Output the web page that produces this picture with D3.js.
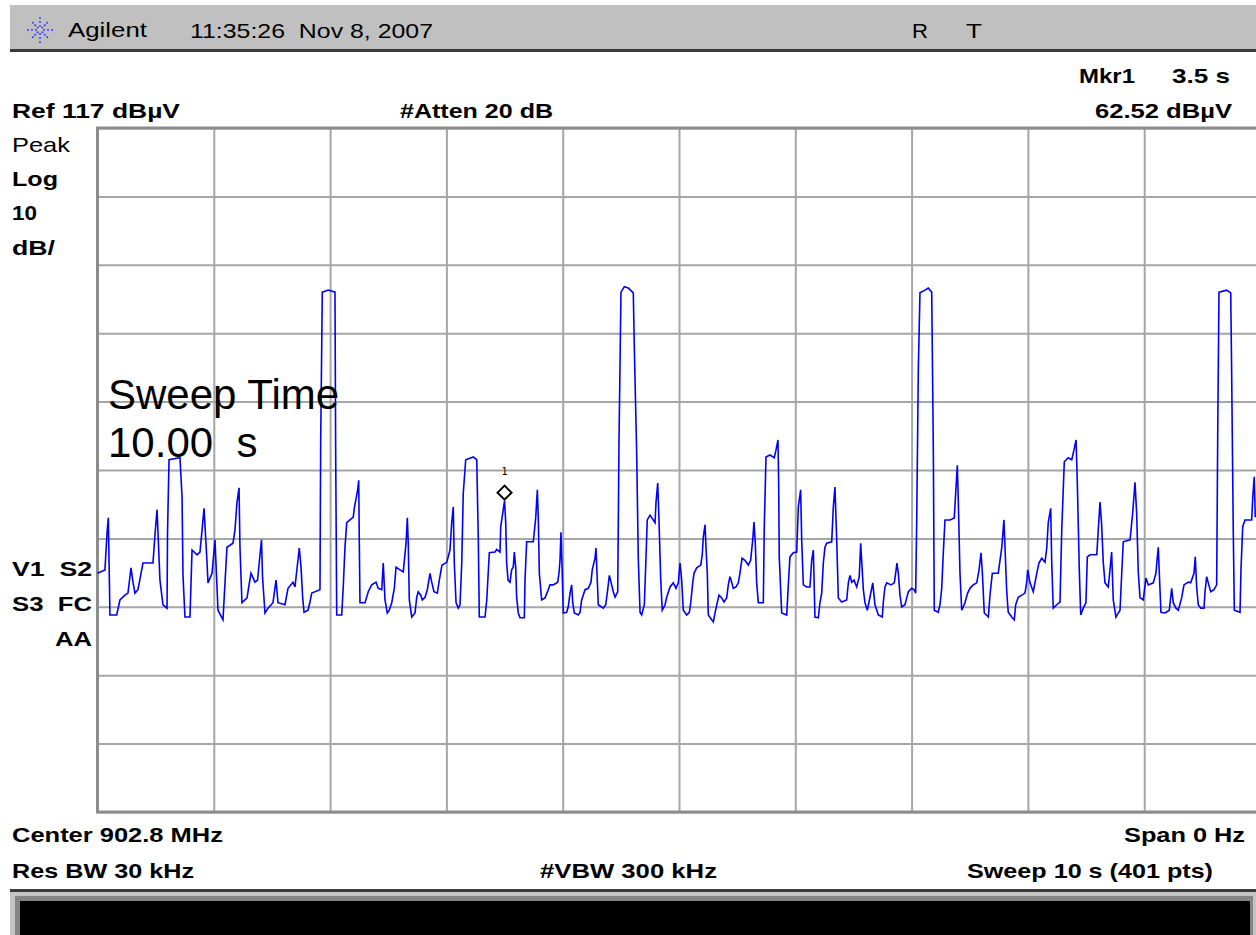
<!DOCTYPE html>
<html>
<head>
<meta charset="utf-8">
<script src="https://cdn.jsdelivr.net/npm/d3@7"></script>
<style>
  body { margin: 0; background: #fff; }
  svg { display: block; }
  text { font-family: "Liberation Sans", Arial, sans-serif; fill: #000; }
  .grid line { stroke: #a6a6a6; stroke-width: 2; }
  .grid path { display: none; }
</style>
</head>
<body>
<svg id="chart" width="1256" height="935"></svg>
<script>
// sweep settings
var refLevel = 117,      // dBuV, top of the graticule
    dbPerDiv = 10,
    sweepSeconds = 10,
    timeTicks = [0, 1, 2, 3, 4, 5, 6, 7, 8, 9, 10],
    levelTicks = [17, 27, 37, 47, 57, 67, 77, 87, 97, 107, 117]

// marker 1
var markerTime = 3.5,
    markerLevel = 62.52

// trace: [time s, level dBuV]
var trace = [
  [0.000,51.9],[0.064,52.4],[0.082,57.8],[0.093,60.0],[0.107,45.8],[0.165,45.8],[0.193,48.0],[0.236,48.7],
  [0.262,49.0],[0.288,52.7],[0.305,50.6],[0.322,49.0],[0.348,49.5],[0.391,53.4],[0.477,53.4],[0.494,57.5],
  [0.512,61.2],[0.537,50.9],[0.563,47.3],[0.598,46.8],[0.602,57.8],[0.615,68.5],[0.709,68.8],[0.727,63.1],
  [0.735,51.6],[0.752,45.5],[0.795,45.5],[0.813,55.3],[0.856,54.6],[0.881,55.0],[0.899,58.2],[0.916,61.4],
  [0.942,53.4],[0.950,50.5],[0.985,51.9],[1.010,56.8],[1.036,46.5],[1.079,45.1],[1.113,55.7],[1.165,56.3],
  [1.182,58.2],[1.199,62.2],[1.217,64.4],[1.225,55.7],[1.242,47.6],[1.286,48.3],[1.303,50.2],[1.320,51.9],
  [1.354,50.6],[1.376,50.9],[1.410,56.8],[1.419,51.4],[1.440,46.1],[1.466,46.8],[1.509,47.6],[1.535,50.9],
  [1.552,47.6],[1.612,47.3],[1.638,49.7],[1.681,50.6],[1.698,49.9],[1.735,55.6],[1.750,52.8],[1.764,48.4],
  [1.776,46.2],[1.810,46.5],[1.827,47.7],[1.842,49.0],[1.913,49.5],[1.919,71.1],[1.933,93.0],[1.985,93.3],
  [2.042,93.0],[2.048,69.5],[2.057,45.8],[2.100,45.8],[2.113,49.9],[2.128,55.7],[2.143,59.3],[2.199,60.1],
  [2.208,61.4],[2.237,64.1],[2.246,65.5],[2.251,56.5],[2.257,47.6],[2.300,47.6],[2.328,49.2],[2.358,50.2],
  [2.395,50.6],[2.414,49.7],[2.444,49.5],[2.457,53.4],[2.472,48.0],[2.492,46.1],[2.509,46.5],[2.530,47.6],
  [2.552,49.7],[2.567,52.8],[2.601,52.4],[2.629,52.1],[2.653,56.3],[2.664,60.0],[2.672,56.3],[2.681,48.0],
  [2.702,45.5],[2.730,46.1],[2.745,48.4],[2.758,49.2],[2.779,48.7],[2.793,48.0],[2.816,48.4],[2.836,49.5],
  [2.859,51.9],[2.874,50.6],[2.893,49.2],[2.922,49.0],[2.939,50.9],[2.962,53.1],[3.003,53.5],[3.031,55.3],
  [3.046,59.4],[3.059,61.6],[3.068,53.4],[3.083,47.6],[3.102,46.8],[3.117,47.3],[3.132,53.4],[3.145,63.6],
  [3.166,68.5],[3.231,68.9],[3.261,68.5],[3.274,57.2],[3.283,45.5],[3.332,45.5],[3.347,48.0],[3.369,54.9],
  [3.418,55.0],[3.432,55.4],[3.461,55.0],[3.467,58.7],[3.500,62.52],[3.510,59.3],[3.518,53.4],[3.530,50.9],
  [3.547,50.6],[3.561,52.4],[3.575,52.8],[3.584,55.0],[3.596,52.8],[3.604,48.4],[3.618,46.1],[3.633,45.4],
  [3.670,45.4],[3.676,50.9],[3.690,56.5],[3.747,56.5],[3.768,60.0],[3.782,64.1],[3.790,60.0],[3.799,51.9],
  [3.819,48.0],[3.848,48.3],[3.876,49.5],[3.891,50.2],[3.919,50.2],[3.957,50.6],[3.968,51.9],[3.977,53.8],
  [3.985,57.9],[3.997,51.4],[4.005,46.1],[4.034,46.2],[4.048,47.0],[4.063,49.0],[4.077,50.2],[4.086,47.6],
  [4.100,46.1],[4.134,45.8],[4.149,46.2],[4.163,48.0],[4.192,49.5],[4.220,49.7],[4.243,50.6],[4.254,52.4],
  [4.278,54.1],[4.286,55.6],[4.295,51.9],[4.306,47.3],[4.349,46.8],[4.370,47.3],[4.387,49.5],[4.401,51.6],
  [4.421,50.2],[4.435,49.2],[4.450,48.4],[4.473,49.2],[4.484,71.1],[4.501,93.0],[4.530,93.8],[4.564,93.6],
  [4.607,92.9],[4.616,84.8],[4.636,69.5],[4.650,54.1],[4.665,46.2],[4.679,45.8],[4.702,47.3],[4.714,53.1],
  [4.727,59.7],[4.751,60.4],[4.794,59.3],[4.802,62.2],[4.817,65.1],[4.828,59.7],[4.843,50.9],[4.856,46.5],
  [4.880,47.3],[4.894,48.4],[4.923,49.9],[4.951,50.5],[4.974,49.7],[4.994,50.5],[5.009,53.4],[5.023,50.9],
  [5.037,46.5],[5.066,45.8],[5.089,46.2],[5.101,47.6],[5.118,50.5],[5.129,51.9],[5.152,52.7],[5.187,53.1],
  [5.200,54.6],[5.209,57.2],[5.224,59.0],[5.232,55.7],[5.243,52.1],[5.252,45.8],[5.281,45.1],[5.295,44.8],
  [5.310,46.1],[5.329,47.6],[5.344,48.7],[5.367,48.3],[5.387,47.7],[5.410,48.3],[5.424,50.2],[5.438,51.4],
  [5.453,50.6],[5.467,49.7],[5.490,49.9],[5.510,50.5],[5.524,51.9],[5.542,54.1],[5.567,53.8],[5.596,53.1],
  [5.616,53.8],[5.634,56.8],[5.645,59.4],[5.656,56.3],[5.668,50.5],[5.682,47.6],[5.725,47.6],[5.733,58.5],
  [5.748,68.9],[5.782,69.2],[5.819,68.8],[5.834,69.9],[5.851,71.4],[5.857,65.1],[5.862,54.3],[5.883,46.1],
  [5.926,45.8],[5.940,50.2],[5.954,54.3],[5.983,54.9],[6.012,55.0],[6.026,61.6],[6.046,64.1],[6.055,56.8],
  [6.069,50.2],[6.098,49.9],[6.126,49.9],[6.141,53.8],[6.155,55.3],[6.169,45.5],[6.198,45.4],[6.212,47.6],
  [6.227,49.0],[6.241,53.4],[6.255,55.7],[6.270,56.3],[6.313,56.5],[6.327,61.6],[6.341,64.5],[6.356,56.8],
  [6.370,48.3],[6.399,47.7],[6.442,48.0],[6.456,50.5],[6.470,51.6],[6.485,50.6],[6.505,50.9],[6.528,49.9],
  [6.550,51.4],[6.562,56.3],[6.574,52.8],[6.585,49.5],[6.599,47.6],[6.619,46.5],[6.642,48.4],[6.666,50.5],
  [6.685,47.3],[6.714,45.8],[6.748,45.5],[6.757,47.7],[6.771,49.9],[6.786,50.5],[6.823,50.2],[6.851,50.5],
  [6.863,51.9],[6.874,53.4],[6.886,51.9],[6.900,48.7],[6.915,47.0],[6.943,47.3],[6.958,48.3],[6.972,49.2],
  [7.001,49.7],[7.023,49.5],[7.035,49.0],[7.044,59.7],[7.058,81.9],[7.072,92.9],[7.115,93.3],[7.143,93.6],
  [7.173,93.0],[7.187,69.6],[7.195,46.5],[7.229,46.2],[7.244,47.3],[7.259,49.7],[7.273,55.0],[7.287,59.7],
  [7.330,59.7],[7.367,60.0],[7.379,63.6],[7.393,67.7],[7.402,62.2],[7.416,51.9],[7.431,46.5],[7.459,47.6],
  [7.482,49.0],[7.502,49.7],[7.530,50.2],[7.560,50.5],[7.580,52.4],[7.597,54.9],[7.608,52.1],[7.625,46.1],
  [7.660,45.5],[7.674,48.7],[7.694,51.9],[7.745,51.9],[7.775,55.6],[7.794,59.7],[7.803,55.7],[7.818,49.2],
  [7.831,46.2],[7.861,45.5],[7.883,45.1],[7.895,47.3],[7.917,48.4],[7.947,48.7],[7.975,49.0],[7.990,50.6],
  [7.998,52.4],[8.018,50.5],[8.046,49.2],[8.076,51.9],[8.095,53.4],[8.119,54.1],[8.147,53.5],[8.162,55.6],
  [8.175,59.3],[8.196,61.4],[8.205,53.4],[8.218,46.8],[8.248,47.3],[8.276,47.7],[8.291,58.2],[8.313,68.2],
  [8.347,68.8],[8.377,68.5],[8.396,69.9],[8.414,71.4],[8.425,65.1],[8.442,52.4],[8.454,45.8],[8.476,46.8],
  [8.499,47.6],[8.511,54.3],[8.534,54.6],[8.592,54.6],[8.605,58.2],[8.620,62.3],[8.634,59.0],[8.648,53.5],
  [8.663,50.5],[8.691,49.9],[8.706,52.4],[8.720,55.0],[8.734,48.0],[8.757,45.5],[8.777,46.1],[8.792,46.5],
  [8.806,51.6],[8.820,56.5],[8.878,56.8],[8.901,60.7],[8.921,65.2],[8.935,60.7],[8.949,52.1],[8.964,48.3],
  [8.992,48.0],[9.015,51.2],[9.035,50.2],[9.078,50.5],[9.101,51.9],[9.113,54.3],[9.121,55.7],[9.130,51.9],
  [9.144,46.2],[9.179,46.1],[9.216,46.5],[9.236,49.7],[9.250,47.6],[9.273,46.8],[9.293,46.5],[9.322,48.3],
  [9.342,50.2],[9.379,50.6],[9.400,50.5],[9.428,51.9],[9.439,54.3],[9.451,49.9],[9.465,47.3],[9.486,46.8],
  [9.514,46.8],[9.523,49.2],[9.537,51.4],[9.551,50.5],[9.572,49.2],[9.600,49.5],[9.623,50.2],[9.632,71.8],
  [9.643,93.0],[9.709,93.3],[9.744,92.9],[9.752,81.2],[9.766,57.8],[9.775,46.5],[9.824,46.2],[9.832,52.4],
  [9.847,58.7],[9.867,59.7],[9.924,59.7],[9.933,62.9],[9.946,66.0],[9.955,60.1]
]

// screen annotations: [text, x, baseline y, weight, size, width, anchor]
var annotations = [
  ["Agilent", 68, 37, "normal", 21, 79, "start"],
  ["11:35:26  Nov 8, 2007", 190, 38, "normal", 21, 243, "start"],
  ["R", 912, 38, "normal", 21, 16, "start"],
  ["T", 966, 38, "normal", 21, 16, "start"],
  ["Mkr1", 1079, 83, "bold", 21, 56, "start"],
  ["3.5 s", 1230, 83, "bold", 21, 58, "end"],
  ["Ref 117 dB\u00b5V", 12, 118, "bold", 21, 168, "start"],
  ["#Atten 20 dB", 400, 118, "bold", 21, 153, "start"],
  ["62.52 dB\u00b5V", 1232, 118, "bold", 21, 137, "end"],
  ["Peak", 12, 152, "normal", 21, 58, "start"],
  ["Log", 12, 186, "bold", 21, 46, "start"],
  ["10", 12, 220, "bold", 21, 25, "start"],
  ["dB/", 12, 255, "bold", 21, 43, "start"],
  ["V1  S2", 12, 576, "bold", 21, 80, "start"],
  ["S3  FC", 12, 611, "bold", 21, 80, "start"],
  ["AA", 92, 646, "bold", 21, 37, "end"],
  ["Center 902.8 MHz", 12, 842, "bold", 21, 211, "start"],
  ["Span 0 Hz", 1245, 842, "bold", 21, 121, "end"],
  ["Res BW 30 kHz", 12, 878, "bold", 21, 182, "start"],
  ["#VBW 300 kHz", 540, 878, "bold", 21, 177, "start"],
  ["Sweep 10 s (401 pts)", 1213, 878, "bold", 21, 246, "end"]
]

var svg = d3.select("#chart")
var plot = { left: 97.5, top: 128, width: 1163, height: 684 }

var x = d3.scaleLinear().domain([0, sweepSeconds]).range([plot.left, plot.left + plot.width]),
    y = d3.scaleLinear().domain([refLevel - 10 * dbPerDiv, refLevel]).range([plot.top + plot.height, plot.top])

// header bar
svg.append("rect").attr("x", 10).attr("y", 5).attr("width", 1246).attr("height", 44).attr("fill", "#c0c0c0")
svg.append("rect").attr("x", 10).attr("y", 49).attr("width", 1246).attr("height", 3).attr("fill", "#3a3a3a")

// agilent spark logo
var logo = svg.append("g").attr("transform", "translate(40,30)")
d3.range(8).forEach(function(i) {
    var a = i * Math.PI / 4
    ;[4, 8, 12].forEach(function(r) {
        logo.append("circle")
            .attr("cx", Math.cos(a) * r * (i % 2 ? 0.85 : 1))
            .attr("cy", Math.sin(a) * r * (i % 2 ? 0.85 : 1))
            .attr("r", 1.1)
            .attr("fill", "#4a4aff")
    })
})

// graticule
svg.append("g")
    .attr("class", "grid")
    .attr("transform", "translate(0," + (plot.top + plot.height) + ")")
    .call(d3.axisBottom(x).tickValues(timeTicks).tickSize(-plot.height).tickFormat(""))

svg.append("g")
    .attr("class", "grid")
    .attr("transform", "translate(" + plot.left + ",0)")
    .call(d3.axisLeft(y).tickValues(levelTicks).tickSize(-plot.width).tickFormat(""))

svg.append("rect")
    .attr("x", plot.left).attr("y", plot.top)
    .attr("width", plot.width).attr("height", plot.height)
    .attr("fill", "none").attr("stroke", "#8c8c8c").attr("stroke-width", 3)

// trace
var line = d3.line()
    .x(function(d) { return x(d[0]) })
    .y(function(d) { return y(d[1]) })

svg.append("path")
    .datum(trace)
    .attr("d", line)
    .attr("fill", "none")
    .attr("stroke", "#0000ff")
    .attr("stroke-width", 1.6)
    .attr("stroke-linejoin", "miter")

// marker 1
var mx = x(markerTime), my = y(markerLevel) - 8
svg.append("path")
    .attr("d", "M" + mx + "," + (my - 7) + "L" + (mx + 7) + "," + my + "L" + mx + "," + (my + 7) + "L" + (mx - 7) + "," + my + "Z")
    .attr("fill", "#fff").attr("stroke", "#000").attr("stroke-width", 2)
svg.append("text")
    .attr("x", mx).attr("y", my - 18)
    .attr("text-anchor", "middle")
    .style("font-size", "10px")
    .style("font-family", "'DejaVu Sans Mono', monospace")
    .text("1")

// sweep time readout
svg.append("text").attr("x", 108).attr("y", 409).style("font-size", "42px").text("Sweep Time")
svg.append("text").attr("x", 108).attr("y", 457).style("font-size", "42px").attr("xml:space", "preserve").text("10.00  s")

// screen annotations
svg.selectAll("text.ann")
    .data(annotations)
    .enter().append("text")
    .attr("class", "ann")
    .attr("x", function(d) { return d[1] })
    .attr("y", function(d) { return d[2] })
    .attr("text-anchor", function(d) { return d[6] })
    .attr("textLength", function(d) { return d[5] })
    .attr("lengthAdjust", "spacingAndGlyphs")
    .attr("xml:space", "preserve")
    .style("font-weight", function(d) { return d[3] })
    .style("font-size", function(d) { return d[4] + "px" })
    .text(function(d) { return d[0] })

// bottom soft-key panel
svg.append("rect").attr("x", 10).attr("y", 889).attr("width", 1246).attr("height", 3).attr("fill", "#3a3a3a")
svg.append("rect").attr("x", 10).attr("y", 892).attr("width", 1246).attr("height", 43).attr("fill", "#c4c4c4")
svg.append("rect").attr("x", 15).attr("y", 896).attr("width", 1238).attr("height", 39).attr("fill", "#858585")
svg.append("rect").attr("x", 20).attr("y", 901).attr("width", 1230).attr("height", 34).attr("fill", "#000")
</script>
</body>
</html>
